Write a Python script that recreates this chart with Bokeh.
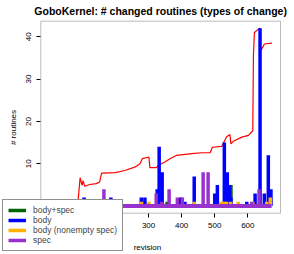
import numpy as np
from bokeh.plotting import figure
from bokeh.models import Range1d, FixedTicker, Legend, LegendItem, BoxAnnotation, Label
from bokeh.embed import file_html
from bokeh.resources import INLINE

# ---- data ----
chart_title = "GoboKernel: # changed routines (types of change)"
first_revision = 1
last_revision = 672

revision_ticks = [0, 100, 200, 300, 400, 500, 600]
routine_ticks = [0, 10, 20, 30, 40]

body_spec_rev = [356, 549]
body_spec_n = [1, 5]

body_rev = [105, 186, 278, 289, 326, 332, 341, 397, 410, 438, 500, 508, 529, 538, 544, 549, 597, 622, 637, 650, 662, 670]
body_n = [2, 2, 2, 2, 4, 14, 8, 2, 1, 7, 3, 5, 15, 8, 5, 2, 1, 3, 42, 3, 12, 4]

nonempty_rev = [278, 301, 438, 518, 524, 530, 536, 548, 571, 615, 657, 668]
nonempty_n = [1, 1, 1, 1, 1, 1, 1, 1, 1, 1, 1, 2]

spec_rev = [165, 323, 339, 362, 387, 402, 465, 480, 612, 634]
spec_n = [4, 3, 1, 4, 2, 2, 8, 8, 1, 4]

trend_rev = [86, 93, 99, 102, 107, 122, 142, 152, 158, 200, 228, 258, 274, 281, 301, 304,
             324, 329, 349, 365, 385, 430, 461, 486, 493, 521, 536, 546, 549, 556, 582,
             602, 615, 617, 620, 632, 636, 637, 647, 650, 673]
trend_n = [0.5, 6.7, 4.9, 6.0, 4.7, 5.1, 5.3, 5.7, 7.8, 7.9, 8.4, 9.2, 10.0, 11.2, 11.6, 9.1,
           9.1, 9.6, 10.4, 11.2, 12.0, 12.4, 12.6, 12.6, 13.9, 14.1, 16.4, 16.9, 14.7, 15.3, 16.3,
           16.7, 17.8, 35.5, 41.0, 41.8, 42.0, 36.5, 37.8, 38.3, 38.5]

# ---- layout (pixels); Bokeh's page template has no body margin ----
W, H = 294, 254
BOX_L, BOX_R, BOX_T, BOX_B = 40.3, 280, 20.7, 212.7

# ---- R-like plot box limits (4% padding) ----
xspan = last_revision - first_revision
ymax = max(max(body_n), max(trend_n), max(spec_n), max(nonempty_n), max(body_spec_n))
xlo, xhi = first_revision - 0.04 * xspan, last_revision + 0.04 * xspan
ylo, yhi = -0.04 * ymax, ymax * 1.04

ppx = (BOX_R - BOX_L) / (xhi - xlo)
ppy = (BOX_B - BOX_T) / (yhi - ylo)
x_range = Range1d(xlo - BOX_L / ppx, xhi + (W - BOX_R) / ppx)
y_range = Range1d(ylo - (H - BOX_B) / ppy, yhi + BOX_T / ppy)

FONT = "Liberation Sans"

p = figure(width=W, height=H, x_range=x_range, y_range=y_range,
           output_backend="svg", toolbar_location=None,
           min_border=0, min_border_left=0, min_border_right=0,
           min_border_top=0, min_border_bottom=0)

p.xgrid.visible = False
p.ygrid.visible = False
p.outline_line_color = None
p.background_fill_color = "white"
p.border_fill_color = "white"

p.xaxis.fixed_location = ylo
p.yaxis.fixed_location = xlo

for ax in (p.xaxis[0], p.yaxis[0]):
    ax.axis_line_color = None
    ax.major_tick_out = 4
    ax.major_tick_in = 0
    ax.minor_tick_line_color = None
    ax.major_tick_line_color = "black"
    ax.major_label_text_font = FONT
    ax.major_label_text_font_size = "8px"
    ax.major_label_text_color = "black"
    ax.axis_label_text_font = FONT
    ax.axis_label_text_font_size = "8px"
    ax.axis_label_text_font_style = "normal"
    ax.axis_label_text_color = "black"

p.xaxis.major_label_standoff = 6
p.xaxis.axis_label_standoff = 11
p.yaxis.major_label_standoff = 6
p.yaxis.axis_label_standoff = 5

p.xaxis.ticker = FixedTicker(ticks=revision_ticks)
p.yaxis.ticker = FixedTicker(ticks=routine_ticks)
p.yaxis.major_label_orientation = "vertical"
p.xaxis.axis_label = "revision"
p.yaxis.axis_label = "# routines"

# red trend line (underneath the bars)
p.line(trend_rev, trend_n, line_color="red", line_width=1.2)

BW = 3.5
green = "#006400"
blue = "#0000FF"
orange = "#FFB300"
purple = "#9932CC"

r_green = p.segment(x0=body_spec_rev, y0=[0] * len(body_spec_rev), x1=body_spec_rev, y1=body_spec_n,
                    line_color=green, line_width=BW)
r_blue = p.segment(x0=body_rev, y0=[0] * len(body_rev), x1=body_rev, y1=body_n,
                   line_color=blue, line_width=BW)
r_orange = p.segment(x0=nonempty_rev, y0=[0] * len(nonempty_rev), x1=nonempty_rev, y1=nonempty_n,
                     line_color=orange, line_width=BW)
r_purple = p.segment(x0=spec_rev, y0=[0] * len(spec_rev), x1=spec_rev, y1=spec_n,
                     line_color=purple, line_width=BW)
# zero-valued revisions of the last series form the thick baseline
p.line([first_revision, last_revision], [0, 0], line_color=purple, line_width=4)

# R-style plot box
p.add_layout(BoxAnnotation(left=xlo, right=xhi, bottom=ylo, top=yhi,
                           fill_alpha=0, line_color="#222222", line_width=1))

# title
p.add_layout(Label(x=(xlo + xhi) / 2, y=yhi, y_offset=10, text=chart_title,
                   text_align="center", text_baseline="middle",
                   text_font=FONT, text_font_size="10.5px", text_font_style="bold",
                   text_color="black"))

legend = Legend(items=[
    LegendItem(label="body+spec", renderers=[r_green]),
    LegendItem(label="body", renderers=[r_blue]),
    LegendItem(label="body (nonempty spec)", renderers=[r_orange]),
    LegendItem(label="spec", renderers=[r_purple]),
], location=(2, 3))
legend.border_line_color = "#222222"
legend.border_line_width = 1
legend.background_fill_color = "white"
legend.background_fill_alpha = 1.0
legend.padding = 5
legend.spacing = 0
legend.margin = 0
legend.label_height = 10
legend.glyph_height = 10
legend.glyph_width = 18
legend.label_standoff = 7
legend.label_text_font = FONT
legend.label_text_font_size = "8.5px"
p.add_layout(legend)

open("out.html", "w").write(file_html(p, INLINE))
